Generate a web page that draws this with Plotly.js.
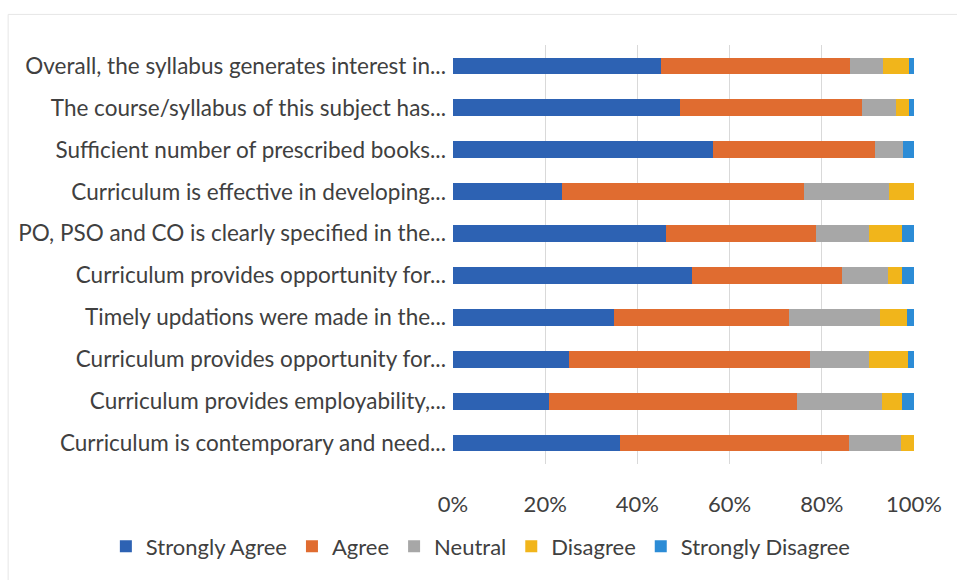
<!DOCTYPE html>
<html>
<head>
<meta charset="utf-8">
<script src="https://cdn.plot.ly/plotly-3.0.1.min.js"></script>
<style>html,body{margin:0;padding:0;background:#fff;}#chart{width:957px;height:580px;}</style>
</head>
<body>
<div id="chart"></div>
<script>
// Statements, listed top to bottom as in the chart
const statements = [
  "Overall, the syllabus generates interest in...",
  "The course/syllabus of this subject has...",
  "Sufficient number of prescribed books...",
  "Curriculum is effective in developing...",
  "PO, PSO and CO is clearly specified in the...",
  "Curriculum provides opportunity for...",
  "Timely updations were made in the...",
  "Curriculum provides opportunity for...",
  "Curriculum provides employability,...",
  "Curriculum is contemporary and need..."
];
const rowIndex = [0, 1, 2, 3, 4, 5, 6, 7, 8, 9];

// Percent of responses per statement
const stronglyAgree    = [45.1, 49.2, 56.3, 23.7, 46.3, 51.8, 34.9, 25.1, 20.8, 36.2];
const agree            = [41.0, 39.5, 35.3, 52.4, 32.5, 32.6, 38.0, 52.4, 53.8, 49.6];
const neutral          = [7.1, 7.3, 6.0, 18.4, 11.4, 9.9, 19.8, 12.7, 18.4, 11.3];
const disagree         = [5.7, 2.9, 0.0, 5.5, 7.2, 3.1, 5.8, 8.5, 4.4, 2.9];
const stronglyDisagree = [1.1, 1.1, 2.4, 0.0, 2.6, 2.6, 1.5, 1.3, 2.6, 0.0];

const seriesNames = ["Strongly Agree", "Agree", "Neutral", "Disagree", "Strongly Disagree"];
const seriesValues = [stronglyAgree, agree, neutral, disagree, stronglyDisagree];
const seriesColors = ["#2D62B3", "#E06C30", "#A7A7A7", "#F1B51B", "#2C8CD6"];

const xTickVals = [0, 20, 40, 60, 80, 100];
const xTickText = ["0%", "20%", "40%", "60%", "80%", "100%"];

const FONT = "Lato, 'Open Sans', sans-serif";
const TXT = "#404040";

const traces = seriesNames.map((name, i) => ({
  type: "bar",
  orientation: "h",
  name: name,
  x: seriesValues[i],
  y: rowIndex,
  marker: {color: seriesColors[i], line: {width: 0}},
  hoverinfo: "x+name"
}));

const layout = {
  width: 957,
  height: 580,
  paper_bgcolor: "#ffffff",
  plot_bgcolor: "#ffffff",
  barmode: "stack",
  bargap: 0.6,
  margin: {l: 453, r: 43, t: 45, b: 113, pad: 0},
  font: {family: FONT, size: 22, color: TXT},
  xaxis: {
    range: [0, 100],
    tickmode: "array",
    tickvals: xTickVals,
    ticktext: xTickText,
    showgrid: true,
    gridcolor: "#D9D9D9",
    gridwidth: 1,
    zeroline: false,
    showline: false,
    ticks: "",
    ticklabelstandoff: 25,
    tickfont: {family: FONT, size: 22, color: TXT},
    fixedrange: true
  },
  yaxis: {
    tickmode: "array",
    tickvals: rowIndex,
    ticktext: statements,
    autorange: "reversed",
    range: [9.5, -0.5],
    showgrid: false,
    zeroline: false,
    showline: false,
    ticks: "",
    ticklabelstandoff: 6,
    tickfont: {family: FONT, size: 22.5, color: TXT},
    fixedrange: true
  },
  legend: {
    orientation: "h",
    x: -0.753,
    xanchor: "left",
    y: -0.197,
    yanchor: "middle",
    font: {family: FONT, size: 22, color: TXT},
    traceorder: "normal",
    itemclick: false,
    itemdoubleclick: false
  },
  shapes: [
    {type: "line", xref: "paper", yref: "paper", x0: -0.965, x1: 1.1, y0: 1.073, y1: 1.073,
     line: {color: "#E6E6E6", width: 1}},
    {type: "line", xref: "paper", yref: "paper", x0: -0.965, x1: -0.965, y0: 1.073, y1: -0.3,
     line: {color: "#E6E6E6", width: 1}}
  ],
  showlegend: true
};

Plotly.newPlot("chart", traces, layout, {displayModeBar: false, staticPlot: true});
</script>
</body>
</html>
